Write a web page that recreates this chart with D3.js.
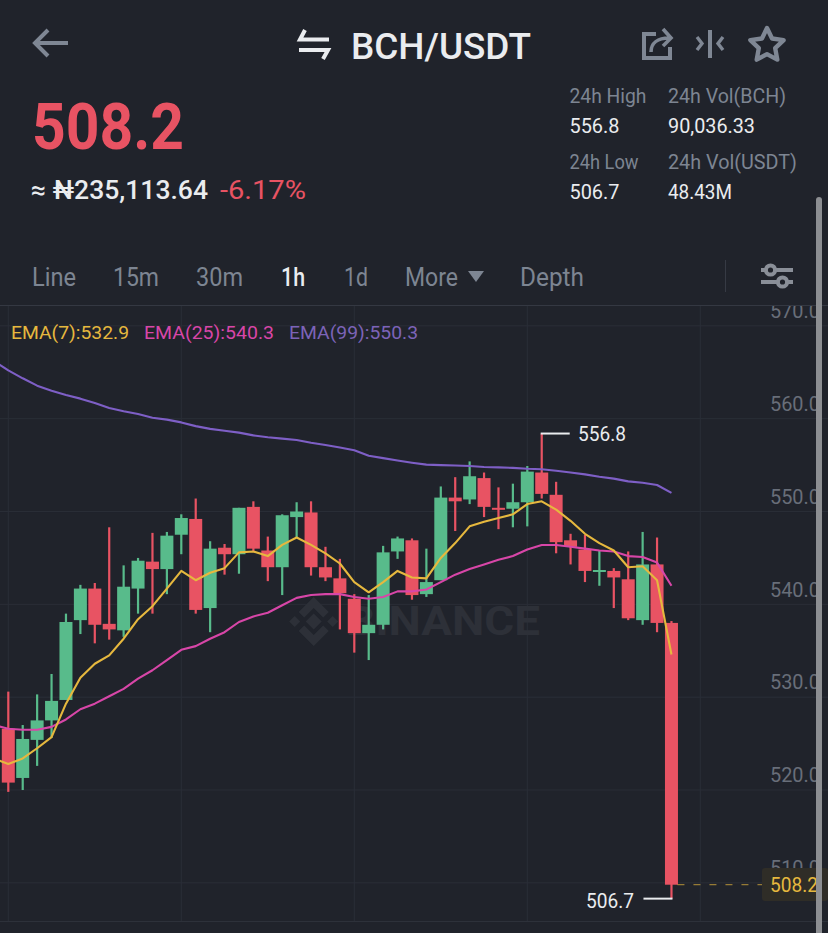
<!DOCTYPE html>
<html>
<head>
<meta charset="utf-8">
<title>BCH/USDT</title>
<script src="https://cdn.jsdelivr.net/npm/d3@7"></script>
<style>
	html, body { margin: 0; padding: 0; background: #20232b; overflow: hidden; }
	svg { display: block; }
	text { font-family: Roboto, "Liberation Sans", sans-serif; }
</style>
</head>
<body>
<main></main>
<script>
// DATA: one entry per hourly candle
const candleOpen = [525.0, 519.7, 523.8, 525.9, 528.1, 536.7, 540.1, 536.3, 535.6, 540.1, 543.0, 542.2, 545.9, 547.6, 538.0, 544.5, 543.8, 548.9, 544.2, 542.4, 547.8, 548.3, 542.4, 541.2, 539.0, 535.3, 536.2, 544.1, 545.3, 539.5, 541.0, 549.9, 549.7, 552.0, 548.8, 548.7, 549.4, 552.6, 550.2, 545.3, 544.3, 542.0, 542.0, 541.1, 536.7, 542.7, 536.4];
const candleHigh = [529.0, 525.4, 528.7, 530.9, 537.4, 540.5, 540.7, 546.7, 542.6, 543.4, 546.1, 546.2, 548.1, 549.8, 545.2, 544.9, 548.8, 549.5, 545.7, 548.1, 549.4, 549.5, 544.6, 543.3, 539.5, 539.4, 544.7, 545.7, 545.5, 544.4, 551.1, 552.1, 553.8, 552.6, 551.0, 551.4, 553.3, 556.8, 551.6, 546.0, 545.9, 544.2, 542.3, 544.1, 546.2, 545.6, 536.6];
const candleLow = [518.2, 518.4, 521.0, 524.0, 528.1, 535.2, 534.2, 534.6, 534.9, 537.4, 537.4, 539.5, 543.8, 537.4, 535.4, 541.6, 541.7, 544.1, 540.9, 539.4, 545.6, 541.5, 540.9, 535.7, 533.2, 532.4, 535.7, 543.3, 538.9, 539.2, 541.0, 546.3, 549.2, 547.8, 546.5, 546.7, 546.8, 549.8, 543.9, 542.7, 540.8, 540.4, 538.0, 536.7, 536.2, 535.4, 506.7];
const candleClose = [519.2, 523.9, 525.9, 528.0, 536.5, 540.1, 536.2, 535.7, 540.3, 543.1, 542.2, 545.8, 547.7, 537.8, 544.4, 543.8, 548.8, 544.4, 542.4, 548.0, 548.4, 542.4, 541.3, 539.6, 535.3, 536.2, 544.0, 545.5, 539.4, 540.8, 549.9, 549.5, 552.2, 548.9, 548.6, 549.4, 552.7, 550.3, 545.1, 544.6, 542.0, 542.1, 541.3, 536.9, 542.7, 536.4, 508.2];

// moving averages start one candle left of the first visible candle
const ema7 = [521.8, 521.2, 521.8, 522.9, 524.1, 527.7, 530.5, 532.0, 532.9, 534.7, 536.8, 538.2, 540.1, 542.0, 541.0, 541.8, 542.3, 544.0, 544.1, 543.6, 544.8, 545.6, 544.8, 543.9, 542.8, 540.8, 539.7, 540.8, 542.0, 541.3, 541.2, 543.4, 545.0, 546.8, 547.3, 547.7, 548.1, 549.2, 549.5, 548.6, 547.4, 546.0, 545.0, 544.2, 542.4, 542.5, 541.0, 533.0];
const ema25 = [525.4, 525.0, 524.9, 524.9, 525.2, 526.0, 527.1, 527.7, 528.5, 529.3, 530.4, 531.3, 532.4, 533.5, 533.9, 534.7, 535.4, 536.5, 537.1, 537.5, 538.3, 539.1, 539.4, 539.5, 539.5, 539.2, 539.0, 539.2, 539.8, 539.8, 540.0, 540.8, 541.6, 542.2, 542.7, 543.2, 543.6, 544.3, 544.8, 544.8, 544.6, 544.4, 544.2, 544.1, 543.6, 543.5, 542.9, 540.4];
const ema99 = [564.6, 563.6, 562.75, 561.96, 561.4, 560.95, 560.56, 560.1, 559.55, 559.2, 558.9, 558.5, 558.3, 558.0, 557.6, 557.3, 557.1, 556.9, 556.6, 556.4, 556.25, 556.1, 555.8, 555.57, 555.3, 555.0, 554.4, 554.15, 553.9, 553.66, 553.45, 553.4, 553.35, 553.3, 553.2, 553.15, 553.1, 553.0, 552.95, 552.8, 552.6, 552.4, 552.15, 551.94, 551.65, 551.5, 551.26, 550.4];

// axis
const priceTicks = [570, 560, 550, 540, 530, 520, 510];
const gridPrices = [568.4, 558.4, 548.4, 538.4, 528.4, 518.4, 508.4];
const gridCandles = [0, 12, 24, 36, 48];

// labels
const pair = "BCH/USDT";
const lastPrice = "508.2";
const localPrice = "≈ ₦235,113.64";
const change = "-6.17%";
const statNames = ["24h High", "24h Vol(BCH)", "24h Low", "24h Vol(USDT)"];
const statValues = ["556.8", "90,036.33", "506.7", "48.43M"];
const tabs = ["Line", "15m", "30m", "1h", "1d", "More", "Depth"];
const emaLabels = ["EMA(7):532.9", "EMA(25):540.3", "EMA(99):550.3"];
const highLabel = 556.8;
const lowLabel = 506.7;
const currentPrice = 508.2;

// CHART
const w = 828;
const h = 933;
const bg = "#20232b";
const green = "#58bb8b";
const red = "#e85363";
const yellow = "#e6b83e";
const magenta = "#d846a8";
const purple = "#7e5fc6";
const grey = "#7d8592";
const axisGrey = "#686e79";
const white = "#eaecef";
const icon = "#7f8794";
const gridColor = "#2a2e37";

const svg = d3.select("main").append("svg")
	.attr("width", w)
	.attr("height", h)
	.style("background-color", bg);

// scales
const xScale = d3.scaleLinear().domain([0, 12]).range([8.3, 181.3]);
const yScale = d3.scaleLinear().domain([570, 510]).range([311, 868]);

// text helper: the app font is narrower than anything installed, so squeeze to the measured width
function label(parent, str, x, y, width, size, color, weight) {
	return parent.append("text")
		.attr("x", x)
		.attr("y", y)
		.attr("dy", "0.36em")
		.attr("textLength", width)
		.attr("lengthAdjust", "spacingAndGlyphs")
		.attr("font-size", size)
		.attr("font-weight", weight || 400)
		.attr("fill", color)
		.text(str);
}

// HEADER
const header = svg.append("g").attr("fill", "none").attr("stroke-linecap", "butt");
header.append("path").attr("d", "M68,43H36M48,30L35,43L48,56").attr("stroke", icon).attr("stroke-width", 4);
header.append("path").attr("d", "M305,30L300,39.5H329M299,50H328L323,59").attr("stroke", white).attr("stroke-width", 4);
header.append("path").attr("d", "M656,34H644V58H670V47").attr("stroke", icon).attr("stroke-width", 4);
header.append("path").attr("d", "M651,52C651,43 658,38 669,38M663,29L671,38L663,46").attr("stroke", icon).attr("stroke-width", 3.6);
header.append("path").attr("d", "M710,30V58").attr("stroke", icon).attr("stroke-width", 4);
header.append("path").attr("d", "M697,37L702,43.5L697,50M723,37L718,43.5L723,50").attr("stroke", icon).attr("stroke-width", 3.4);

const starPoints = d3.range(10).map(i => {
	const r = i % 2 ? 8.6 : 17.5;
	const a = -Math.PI / 2 + i * Math.PI / 5;
	return [767 + r * Math.cos(a), 45.5 + r * Math.sin(a)];
});
header.append("path")
	.attr("d", d3.line()(starPoints) + "Z")
	.attr("stroke", icon)
	.attr("stroke-width", 4.4)
	.attr("stroke-linejoin", "round");

label(svg, pair, 351, 46, 180, 36, white, 500);
label(svg, lastPrice, 32, 126, 152, 65, red, 700);
label(svg, localPrice, 31, 190, 177, 26, white, 500);
label(svg, change, 220, 190, 86, 26, red, 400);

// 24h stats
const statX = [569.5, 668, 569.5, 668];
const statNameY = [96, 96, 162, 162];
const statValueY = [126, 126, 192, 192];
const statNameW = [77, 118, 69, 129];
const statValueW = [50, 87, 50, 64];
statNames.forEach((d, i) => label(svg, d, statX[i], statNameY[i], statNameW[i], 20.5, grey));
statValues.forEach((d, i) => label(svg, d, statX[i], statValueY[i], statValueW[i], 19.5, white));

// tabs
const tabX = [32, 113, 196, 281, 344, 405, 520];
const tabW = [44, 46, 47, 24, 24, 53, 64];
tabs.forEach((d, i) => label(svg, d, tabX[i], 277, tabW[i], 25, d === "1h" ? white : grey, d === "1h" ? 500 : 400));
svg.append("path").attr("d", "M468,271H484L476,282Z").attr("fill", grey);

svg.append("line").attr("x1", 725.5).attr("x2", 725.5).attr("y1", 260).attr("y2", 292).attr("stroke", "#363a44");
const sliders = svg.append("g").attr("stroke", "#8a8f98").attr("stroke-width", 4);
sliders.append("path").attr("d", "M761,270H793M761,282H793");
sliders.append("circle").attr("cx", 770.5).attr("cy", 270).attr("r", 4.6).attr("fill", bg);
sliders.append("circle").attr("cx", 782.5).attr("cy", 282).attr("r", 4.6).attr("fill", bg);

// PLOT AREA
svg.append("clipPath").attr("id", "plot").append("rect").attr("x", 0).attr("y", 306).attr("width", w).attr("height", h - 306);
const plot = svg.append("g").attr("clip-path", "url(#plot)");

// grid
plot.append("g").selectAll("line").data(gridPrices).enter().append("line")
	.attr("x1", 0).attr("x2", w)
	.attr("y1", d => yScale(d)).attr("y2", d => yScale(d))
	.attr("stroke", gridColor);
plot.append("g").selectAll("line").data(gridCandles).enter().append("line")
	.attr("x1", d => xScale(d)).attr("x2", d => xScale(d))
	.attr("y1", 306).attr("y2", 921)
	.attr("stroke", gridColor);
svg.append("line").attr("x1", 0).attr("x2", w).attr("y1", 305.5).attr("y2", 305.5).attr("stroke", "#343842");
svg.append("line").attr("x1", 0).attr("x2", w).attr("y1", 921.5).attr("y2", 921.5).attr("stroke", "#2d313a");

// watermark
const mark = plot.append("g").attr("fill", "#2d3038").attr("transform", "translate(313.7,621.5)");
mark.append("path").attr("d", "M0,-8L8,0L0,8L-8,0Z");
mark.append("path").attr("d", "M-24.5,0L-19,-5.5L-13.5,0L-19,5.5Z");
mark.append("path").attr("d", "M24.5,0L19,-5.5L13.5,0L19,5.5Z");
mark.append("path").attr("d", "M0,-24.5L15,-9.5L9.5,-4L0,-13.5L-9.5,-4L-15,-9.5Z");
mark.append("path").attr("d", "M0,24.5L15,9.5L9.5,4L0,13.5L-9.5,4L-15,9.5Z");
label(plot, "BINANCE", 346, 621, 194, 40, "#2d3038", 700);

// y axis labels
plot.append("g").selectAll("text").data(priceTicks).enter().append("text")
	.attr("x", 770)
	.attr("y", d => yScale(d))
	.attr("dy", "0.36em")
	.attr("font-size", 19.5)
	.attr("textLength", 50)
	.attr("lengthAdjust", "spacingAndGlyphs")
	.attr("fill", axisGrey)
	.text(d => d3.format(".1f")(d));

// candles
const candles = plot.append("g").selectAll("g").data(candleClose).enter().append("g")
	.attr("fill", (d, i) => d >= candleOpen[i] ? green : red);
candles.append("rect")
	.attr("x", (d, i) => xScale(i) - 1.1)
	.attr("width", 2.2)
	.attr("y", (d, i) => yScale(candleHigh[i]))
	.attr("height", (d, i) => yScale(candleLow[i]) - yScale(candleHigh[i]));
candles.append("rect")
	.attr("x", (d, i) => xScale(i) - 6.5)
	.attr("width", 13)
	.attr("y", (d, i) => yScale(Math.max(d, candleOpen[i])))
	.attr("height", (d, i) => Math.max(2, Math.abs(yScale(d) - yScale(candleOpen[i]))));

// moving averages
const emaLine = d3.line().x((d, i) => xScale(i - 1)).y(d => yScale(d));
[[ema99, purple], [ema25, magenta], [ema7, yellow]].forEach(([values, color]) => {
	plot.append("path")
		.attr("d", emaLine(values))
		.attr("fill", "none")
		.attr("stroke", color)
		.attr("stroke-width", 2.1)
		.attr("stroke-linejoin", "round");
});

// legend
const emaX = [11, 144, 289];
const emaW = [118, 130, 129];
[yellow, magenta, "#7c63b8"].forEach((c, i) => label(plot, emaLabels[i], emaX[i], 332, emaW[i], 19, c));

// high and low callouts
const lastX = xScale(candleClose.length - 1);
const highX = xScale(candleHigh.indexOf(highLabel));
plot.append("line").attr("x1", highX - 1).attr("x2", highX + 28).attr("y1", yScale(highLabel)).attr("y2", yScale(highLabel)).attr("stroke", white).attr("stroke-width", 2);
label(plot, d3.format(".1f")(highLabel), 578, yScale(highLabel), 48, 19.5, white);
plot.append("line").attr("x1", lastX - 28).attr("x2", lastX + 1).attr("y1", yScale(lowLabel)).attr("y2", yScale(lowLabel)).attr("stroke", white).attr("stroke-width", 2);
label(plot, d3.format(".1f")(lowLabel), 586, yScale(lowLabel) + 2, 48, 19.5, white);

// current price
plot.append("line")
	.attr("x1", lastX + 6).attr("x2", 762)
	.attr("y1", yScale(currentPrice)).attr("y2", yScale(currentPrice))
	.attr("stroke", yellow).attr("stroke-opacity", 0.75).attr("stroke-dasharray", "7,9");
plot.append("rect").attr("x", 762).attr("y", 868).attr("width", 66).attr("height", 33).attr("rx", 3).attr("fill", "#2f2d27");
label(plot, d3.format(".1f")(currentPrice), 770, yScale(currentPrice), 48, 19.5, yellow);

// scrollbar
svg.append("rect").attr("x", 816).attr("y", 197).attr("width", 6).attr("height", 740).attr("rx", 3).attr("fill", "#8c8e92");
</script>
</body>
</html>
